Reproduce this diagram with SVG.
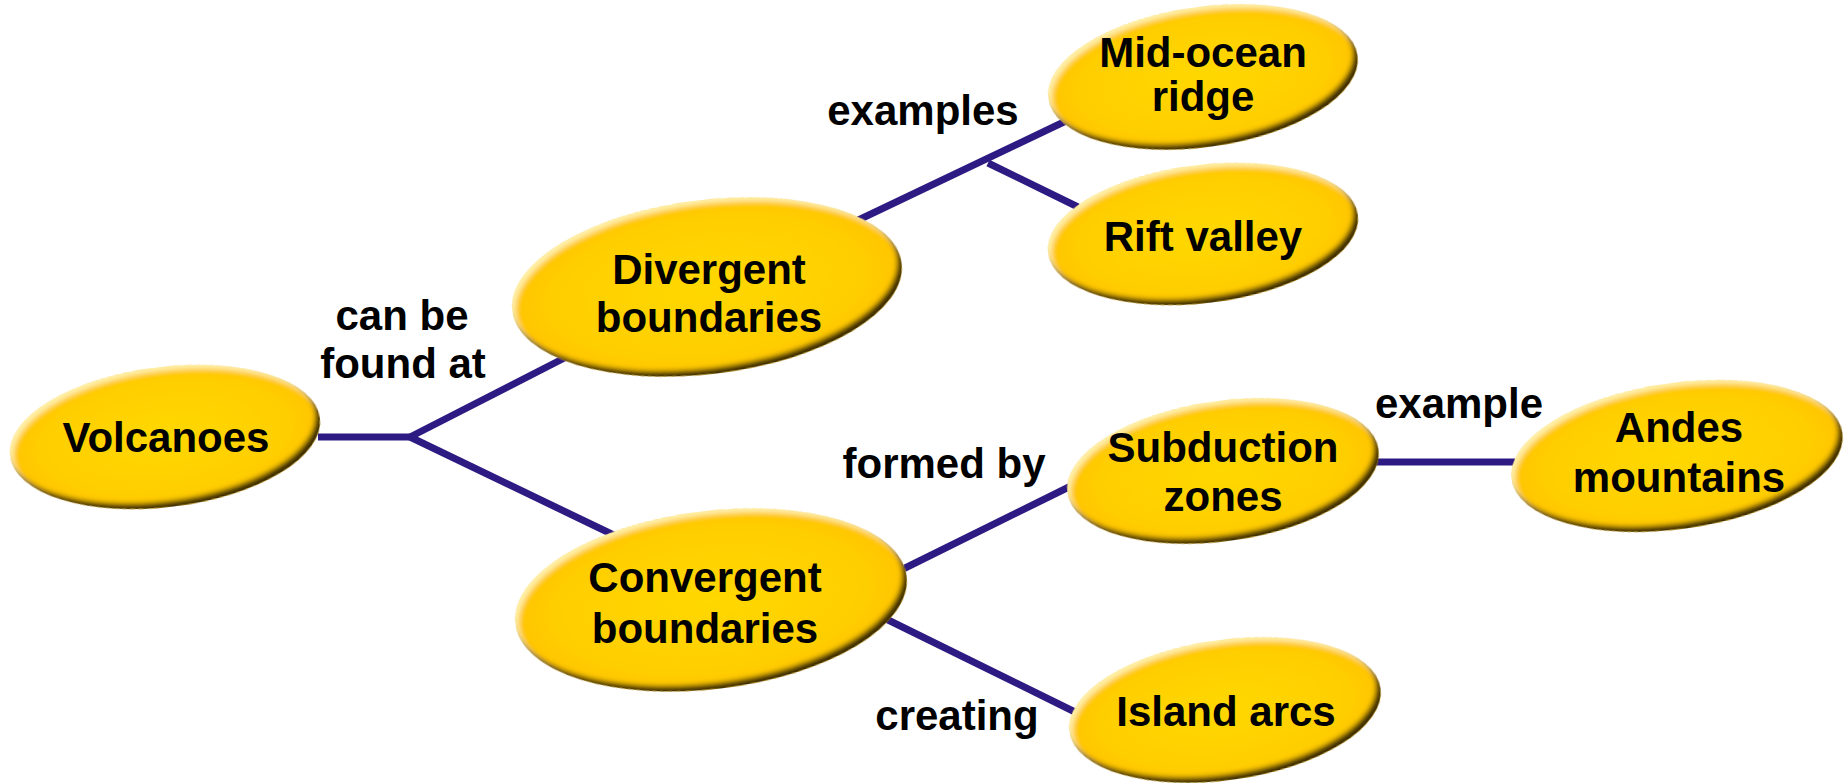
<svg xmlns="http://www.w3.org/2000/svg" width="1847" height="783" viewBox="0 0 1847 783">
<defs>
<radialGradient id="fill" cx="50%" cy="50%" r="50%">
<stop offset="0" stop-color="#FFD800"/>
<stop offset="0.8" stop-color="#FFCE00"/>
<stop offset="1" stop-color="#FFC400"/>
</radialGradient>
<filter id="bevel" x="-5%" y="-10%" width="110%" height="120%">
<feGaussianBlur in="SourceAlpha" stdDeviation="2.5" result="b"/>
<feOffset in="b" dx="-4" dy="-6" result="o1"/>
<feComposite in="SourceAlpha" in2="o1" operator="out" result="edgeDark"/>
<feFlood flood-color="#3a2b00"/>
<feComposite in2="edgeDark" operator="in" result="dark"/>
<feOffset in="b" dx="3" dy="4" result="o2"/>
<feComposite in="SourceAlpha" in2="o2" operator="out" result="edgeLight"/>
<feFlood flood-color="#FFF1A8"/>
<feComposite in2="edgeLight" operator="in" result="light"/>
<feMerge><feMergeNode in="SourceGraphic"/><feMergeNode in="light"/><feMergeNode in="dark"/></feMerge>
</filter>
</defs>
<style>
.node ellipse{fill:url(#fill);filter:url(#bevel);}
.node text,.lbl{font-family:"Liberation Sans",Arial,sans-serif;font-weight:bold;font-size:42px;fill:#000;text-anchor:middle;}
.conn line{stroke:#2D1A82;stroke-width:7;}
</style>
<rect width="1847" height="783" fill="#fff"/>
<g id="connectors" class="conn">
<line x1="318" y1="437" x2="412" y2="437"/>
<line x1="410" y1="437" x2="580" y2="350"/>
<line x1="410" y1="437" x2="622" y2="539"/>
<line x1="850" y1="224" x2="1068" y2="120"/>
<line x1="988" y1="163" x2="1078" y2="207"/>
<line x1="895" y1="573" x2="1075" y2="484"/>
<line x1="880" y1="616" x2="1075" y2="712"/>
<line x1="1375" y1="462" x2="1515" y2="462"/>
</g>
<g id="edge-labels">
<text class="lbl" x="402" y="330">can be</text>
<text class="lbl" x="403" y="378">found at</text>
<text class="lbl" x="923" y="125">examples</text>
<text class="lbl" x="944" y="478">formed by</text>
<text class="lbl" x="957" y="730">creating</text>
<text class="lbl" x="1459" y="418">example</text>
</g>
<g id="volcanoes" class="node">
<ellipse cx="165" cy="437" rx="156" ry="70" transform="rotate(-7 165 437)"/>
<text x="166" y="452">Volcanoes</text>
</g>
<g id="divergent" class="node">
<ellipse cx="707" cy="287" rx="196" ry="87" transform="rotate(-7 707 287)"/>
<text x="709" y="284">Divergent</text>
<text x="709" y="332">boundaries</text>
</g>
<g id="mid-ocean" class="node">
<ellipse cx="1203" cy="77" rx="156" ry="70" transform="rotate(-8 1203 77)"/>
<text x="1203" y="67">Mid-ocean</text>
<text x="1203" y="111">ridge</text>
</g>
<g id="rift" class="node">
<ellipse cx="1203" cy="234" rx="156" ry="69" transform="rotate(-7 1203 234)"/>
<text x="1203" y="251">Rift valley</text>
</g>
<g id="convergent" class="node">
<ellipse cx="711" cy="600" rx="197" ry="89" transform="rotate(-7 711 600)"/>
<text x="705" y="592">Convergent</text>
<text x="705" y="643">boundaries</text>
</g>
<g id="subduction" class="node">
<ellipse cx="1223" cy="471" rx="157" ry="70" transform="rotate(-8 1223 471)"/>
<text x="1223" y="462">Subduction</text>
<text x="1223" y="511">zones</text>
</g>
<g id="andes" class="node">
<ellipse cx="1677" cy="456" rx="167" ry="73" transform="rotate(-8 1677 456)"/>
<text x="1679" y="442">Andes</text>
<text x="1679" y="492">mountains</text>
</g>
<g id="island" class="node">
<ellipse cx="1225" cy="710" rx="157" ry="70" transform="rotate(-8 1225 710)"/>
<text x="1226" y="726">Island arcs</text>
</g>
</svg>
